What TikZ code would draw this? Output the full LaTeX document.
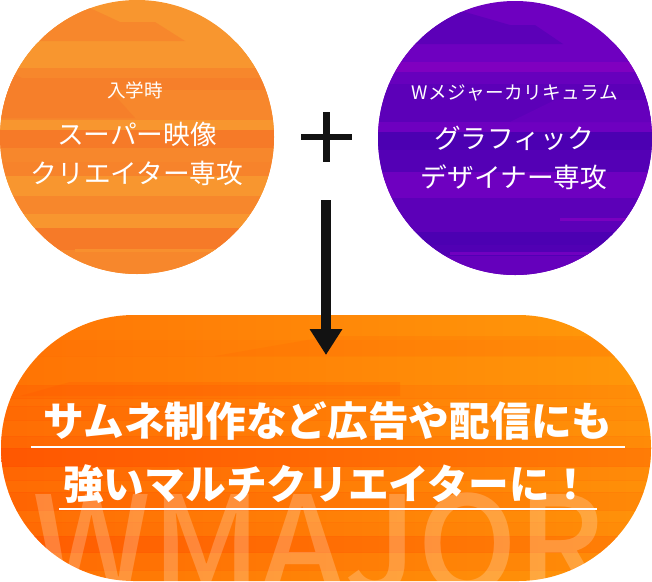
\documentclass[tikz,border=0pt]{standalone}
\usepackage{fontspec}
\newfontfamily\cjk{Noto Sans CJK JP}
\newfontfamily\cjkm{Noto Sans CJK JP Medium}
\usetikzlibrary{arrows.meta}
\definecolor{oa}{HTML}{F8962F}
\definecolor{ob}{HTML}{F67A28}
\definecolor{oc}{HTML}{F7872C}
\definecolor{pa}{HTML}{6E00C0}
\definecolor{pb}{HTML}{4C00B2}
\definecolor{pc}{HTML}{5C00B8}
\definecolor{pd}{HTML}{8000C0}
\definecolor{ra}{HTML}{FF5000}
\definecolor{rb}{HTML}{FF9A0A}
\tikzset{
  small label/.style={text=white,font=\cjk\fontsize{18.6}{18.6}\selectfont,inner sep=0pt},
  major label/.style={text=white,font=\cjk\fontsize{26.7}{39}\selectfont,inner sep=0pt,align=center},
  head line/.style={text=white,font=\cjk\bfseries\fontsize{40.7}{40.7}\selectfont,inner sep=0pt},
  rule line/.style={draw=white,line width=2.7pt},
  black bar/.style={draw=black!93,line width=6.2pt},
}
\begin{document}
\begin{tikzpicture}[x=1pt,y=-1pt]
\useasboundingbox (0,0) rectangle (652,581);
% left circle
\begin{scope}
\clip (137,137) circle (137pt);
\fill[oa] (0,0) rectangle (280,280);
\foreach \a/\b/\c in {42/68/oa,68/78/oc,78/90/ob!60!oc,90/100/oc,100/120/oc,120/130/oa,130/148/ob,148/162/oc,162/176/oc!70!ob,176/196/oa,196/214/oc,214/228/oa,228/250/ob,250/280/oc}
  \fill[\c] (0,\a) rectangle (280,\b);
\fill[oc] (90,8) -- (120,22) -- (155,22) -- (185,41) -- (0,41) -- (0,8) -- cycle;
\fill[ob!60!oc] (14,74) -- (45,90) -- (110,90) -- (135,118) -- (0,118) -- (0,74) -- cycle;
\fill[oa!60!oc] (75,249) rectangle (280,252);
\end{scope}
% right circle
\begin{scope}
\clip (515,138) circle (137pt);
\fill[pa] (370,0) rectangle (660,280);
\foreach \a/\b/\c in {42/62/pa,62/72/pd,72/84/pa!60!pc,84/100/pc,100/122/pc,122/132/pa,132/150/pb,150/172/pb!50!pc,172/198/pa,198/232/pc,232/245/pb,245/256/pb!70!pc,256/280/pc!50!pa}
  \fill[\c] (370,\a) rectangle (660,\b);
\fill[pc] (465,12) -- (510,25) -- (535,25) -- (563,44) -- (370,44) -- (370,12) -- cycle;
\fill[pa!50!pc] (555,100) -- (510,122) -- (660,122) -- (660,100) -- cycle;
\fill[pa!80!pd] (450,252) rectangle (660,255);
\fill[pd!70!pa] (560,218) rectangle (660,221);
\end{scope}
% pill
\begin{scope}
\clip[rounded corners=133pt] (1,315) rectangle (651,581);
\shade[left color=ra!50!rb,right color=rb] (0,315) rectangle (652,581);
\foreach \a/\b/\o in {340/356/.1,356/385/.05,385/398/.3,398/406/.2,406/420/.3,420/436/.2,436/448/.4,448/466/.8,466/480/.4,480/492/.25,492/510/.45,510/522/.2,522/536/.3,536/552/.7,552/570/.3,570/581/.1}
  \shade[left color=ra,right color=ra!50!rb,opacity=\o] (0,\a) rectangle (652,\b);
\fill[ra,opacity=.12] (215,356) -- (330,336) -- (652,336) -- (652,356) -- cycle;
\fill[ra,opacity=.2] (20,396) -- (70,382) -- (400,382) -- (400,396) -- cycle;
\node[text=white,opacity=.22,font=\cjkm\fontsize{133}{133}\selectfont,inner sep=0pt,anchor=base] (watermark) at (318.5,592) {WMAJOR};
\end{scope}
% texts
\node[small label] (entry) at (135,90) {入学時};
\node[major label] (mainmajor) at (137,154) {スーパー映像\\クリエイター専攻};
\node[small label] (wlabel) at (515,93) {W\kern.4pt メ\kern.4pt ジ\kern.4pt ャ\kern.4pt ー\kern.4pt カ\kern.4pt リ\kern.4pt キ\kern.4pt ュ\kern.4pt ラ\kern.4pt ム};
\node[major label] (secondmajor) at (514,158) {グラフィック\\デザイナー専攻};
\node[head line] (headone) at (328,421) {サムネ制作など広告や配信にも};
\node[head line] (headtwo) at (327,484) {強いマルチクリエイターに！};
\coordinate (ruleoneL) at (31,447); \coordinate (ruleoneR) at (625,447);
\coordinate (ruletwoL) at (59,509); \coordinate (ruletwoR) at (597,509);
\draw[rule line] (ruleoneL) -- (ruleoneR);
\draw[rule line] (ruletwoL) -- (ruletwoR);
% plus
\coordinate (plusL) at (301,137); \coordinate (plusR) at (352,137);
\coordinate (plusT) at (326.5,112); \coordinate (plusB) at (326.5,162);
\draw[black bar] (plusL) -- (plusR);
\draw[black bar] (plusT) -- (plusB);
% arrow
\coordinate (arrowS) at (326,200); \coordinate (arrowE) at (326,355);
\draw[draw=black!93,line width=10pt,-{Triangle[width=31pt,length=26pt,fill=black!93]}] (arrowS) -- (arrowE);
\end{tikzpicture}
\end{document}
